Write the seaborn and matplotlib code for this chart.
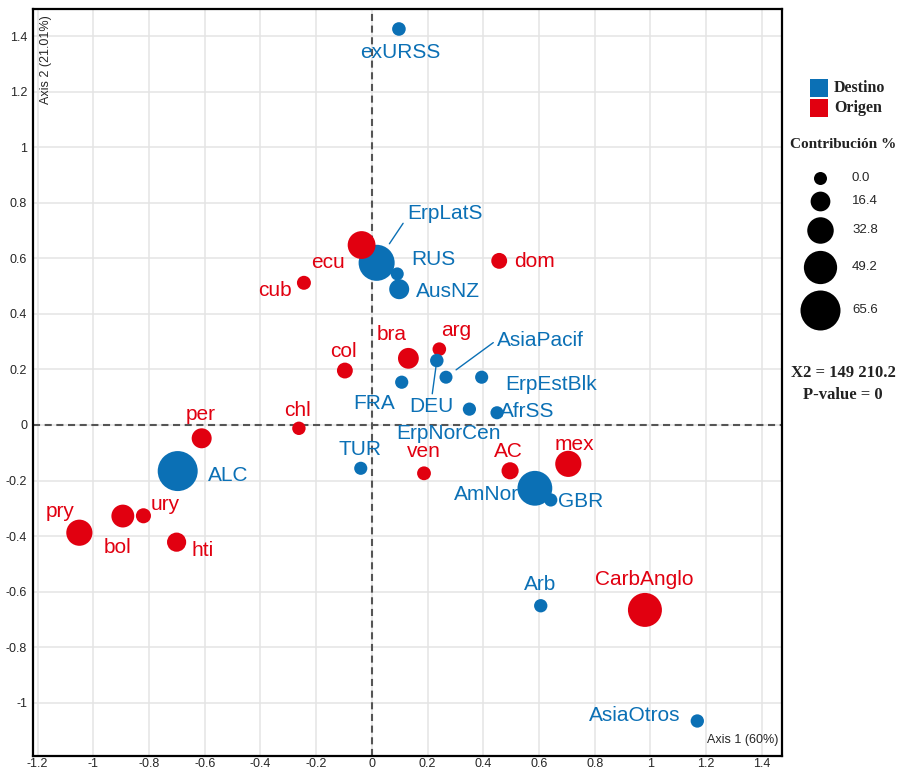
import numpy as np
import pandas as pd
import seaborn as sns
import matplotlib
matplotlib.use("Agg")
from matplotlib import pyplot as plt
from matplotlib.patches import Rectangle

# --- data ---
names = ["exURSS", "ErpLatS", "RUS", "AusNZ", "ecu", "cub", "dom", "col", "bra", "arg",
         "DEU", "AsiaPacif", "FRA", "ErpEstBlk", "ErpNorCen", "AfrSS", "chl", "TUR", "ven", "AC",
         "mex", "AmNor", "GBR", "per", "ALC", "pry", "bol", "ury", "hti", "Arb",
         "CarbAnglo", "AsiaOtros"]
groups = ["Destino", "Destino", "Destino", "Destino", "Origen", "Origen", "Origen", "Origen", "Origen", "Origen",
          "Destino", "Destino", "Destino", "Destino", "Destino", "Destino", "Origen", "Destino", "Origen", "Origen",
          "Origen", "Destino", "Destino", "Origen", "Destino", "Origen", "Origen", "Origen", "Origen", "Destino",
          "Origen", "Destino"]
axis1 = [0.097, 0.017, 0.091, 0.098, -0.037, -0.244, 0.457, -0.097, 0.131, 0.242,
         0.233, 0.266, 0.107, 0.394, 0.350, 0.449, -0.262, -0.040, 0.187, 0.496,
         0.705, 0.585, 0.642, -0.611, -0.697, -1.050, -0.894, -0.820, -0.701, 0.606,
         0.980, 1.168]
axis2 = [1.426, 0.584, 0.544, 0.489, 0.648, 0.512, 0.591, 0.196, 0.240, 0.273,
         0.232, 0.172, 0.154, 0.172, 0.057, 0.044, -0.012, -0.156, -0.174, -0.165,
         -0.140, -0.228, -0.270, -0.048, -0.166, -0.388, -0.328, -0.327, -0.422, -0.651,
         -0.666, -1.066]
contrib = [1.5, 56.0, 0.0, 17.0, 36.0, 2.4, 7.0, 7.0, 19.0, 1.5,
           1.2, 0.0, 0.5, 0.3, 0.5, 0.2, 1.0, 0.3, 2.0, 10.0,
           32.0, 53.0, 0.5, 17.0, 65.6, 32.0, 24.0, 5.0, 15.0, 0.8,
           51.0, 0.8]

legend_values = [0.0, 16.4, 32.8, 49.2, 65.6]
chi2_text = "X2 = 149 210.2"
pvalue_text = "P-value = 0"
xlabel = "Axis 1 (60%)"
ylabel = "Axis 2 (21.01%)"

# label offsets (pixels, relative to the point)
label_offsets = {
    "exURSS": (1, -24), "ErpLatS": (68, 49), "RUS": (36, 14), "AusNZ": (49, -2),
    "ecu": (-34, -17), "cub": (-29, -8), "dom": (35, -1), "col": (-1, 19),
    "bra": (-17, 24), "arg": (17, 19), "DEU": (-5, -46), "AsiaPacif": (94, 37),
    "FRA": (-28, -21), "ErpEstBlk": (69, -7), "ErpNorCen": (-21, -24), "AfrSS": (30, 1),
    "chl": (-1, 18), "TUR": (-1, 19), "ven": (0, 22), "AC": (-2, 19),
    "mex": (6, 19), "AmNor": (-48, -6), "GBR": (30, -2), "per": (-1, 24),
    "ALC": (50, -4), "pry": (-19, 21), "bol": (-5, -31), "ury": (22, 11),
    "hti": (26, -8), "Arb": (-1, 21), "CarbAnglo": (-1, 30), "AsiaOtros": (-63, 5),
}
# leader lines: relpos on text box, shrinkB in points
leaders = {
    "ErpLatS": ((-0.05, 0), 16.5),
    "AsiaPacif": ((0, 0.5), 9),
    "DEU": ((0.5, 1), 5),
}

BLUE = "#0b70b5"
RED = "#e10010"
palette = {"Destino": BLUE, "Origen": RED}


def diam_px(c):
    # marker diameter grows linearly with contribution
    return 13 + 27 * c / 65.6


def area_pt(c):
    return (diam_px(c) * 72 / 100) ** 2


def fmt_tick(v, pos):
    v = round(v, 1) + 0.0
    return f"{v:g}"


sns.set_style("white")
plt.rcParams["font.family"] = ["Liberation Sans", "DejaVu Sans"]

df = pd.DataFrame({"name": names, "grupo": groups, "axis1": axis1, "axis2": axis2, "contrib": contrib})
df = df.sort_values("contrib", ascending=False, kind="stable")
size_map = {c: area_pt(c) for c in df["contrib"].unique()}

fig = plt.figure(figsize=(9.01, 7.71), dpi=100)
ax = fig.add_axes([32.7 / 901, 15.3 / 771, 749.3 / 901, 746.7 / 771])

ax.set_xlim(-1.2175, 1.472)
ax.set_ylim(-1.191, 1.498)
ax.set_xticks(np.round(np.arange(-1.2, 1.41, 0.2), 1))
ax.set_yticks(np.round(np.arange(-1.0, 1.41, 0.2), 1))
ax.xaxis.set_major_formatter(matplotlib.ticker.FuncFormatter(fmt_tick))
ax.yaxis.set_major_formatter(matplotlib.ticker.FuncFormatter(fmt_tick))
ax.tick_params(axis="y", length=0, labelsize=9, pad=4)
ax.tick_params(axis="x", length=0, labelsize=9, pad=1.5)
ax.grid(True, color="#e4e4e4", lw=1.1, zorder=0)
ax.set_axisbelow(True)
for s in ax.spines.values():
    s.set_linewidth(1.6)
    s.set_color("black")

ax.axhline(0, color="#555555", lw=1.5, ls=(0, (3.4, 2.2)), zorder=1)
ax.axvline(0, color="#555555", lw=1.5, ls=(0, (3.4, 2.2)), zorder=1)

sns.scatterplot(data=df, x="axis1", y="axis2", hue="grupo", palette=palette,
                size="contrib", sizes=size_map, linewidth=0, legend=False, ax=ax, zorder=3)
ax.set_xlabel("")
ax.set_ylabel("")

for _, row in df.iterrows():
    col = palette[row["grupo"]]
    dx, dy = label_offsets[row["name"]]
    kw = {}
    if row["name"] in leaders:
        relpos, shrink_b = leaders[row["name"]]
        kw["arrowprops"] = dict(arrowstyle="-", color=col, lw=1.0, relpos=relpos,
                                shrinkA=0, shrinkB=shrink_b)
    ax.annotate(row["name"], (row["axis1"], row["axis2"]), xytext=(dx, dy),
                textcoords="offset pixels", ha="center", va="center",
                color=col, fontsize=15, zorder=5, **kw)

ax.text(0.9955, 0.013, xlabel, transform=ax.transAxes, ha="right", va="bottom", fontsize=9)
ax.text(0.0175, 0.992, ylabel, transform=ax.transAxes, ha="center", va="top",
        rotation=90, fontsize=9)

# --- legend on the right, in pixel coordinates ---
lg = fig.add_axes([0, 0, 1, 1], facecolor="none")
lg.set_xlim(0, 901)
lg.set_ylim(771, 0)
lg.axis("off")

serif = ["Liberation Serif", "DejaVu Serif"]
for i, (lab, colr) in enumerate(palette.items()):
    y = 87.5 + i * 20.5
    lg.add_patch(Rectangle((810, y - 9), 18, 18, color=colr, lw=0))
    lg.text(834, y, lab, ha="left", va="center", fontsize=11.5, fontweight="bold",
            family=serif, color="#222222")

lg.text(790, 145, "Contribución %", ha="left", va="center", fontsize=11,
        fontweight="bold", family=serif, color="#222222")

y = 177.7
prev_r = None
for v in legend_values:
    r = diam_px(v) / 2
    if prev_r is not None:
        y += prev_r + r + 6.5
    lg.scatter([820], [y], s=area_pt(v), color="black", linewidths=0)
    lg.text(852, y, f"{v:.1f}", ha="left", va="center", fontsize=9.5)
    prev_r = r

lg.text(843, 373, chi2_text, ha="center", va="center", fontsize=12,
        fontweight="bold", family=serif, color="#222222")
lg.text(843, 395, pvalue_text, ha="center", va="center", fontsize=12,
        fontweight="bold", family=serif, color="#222222")

fig.savefig("out.png", dpi=100)
